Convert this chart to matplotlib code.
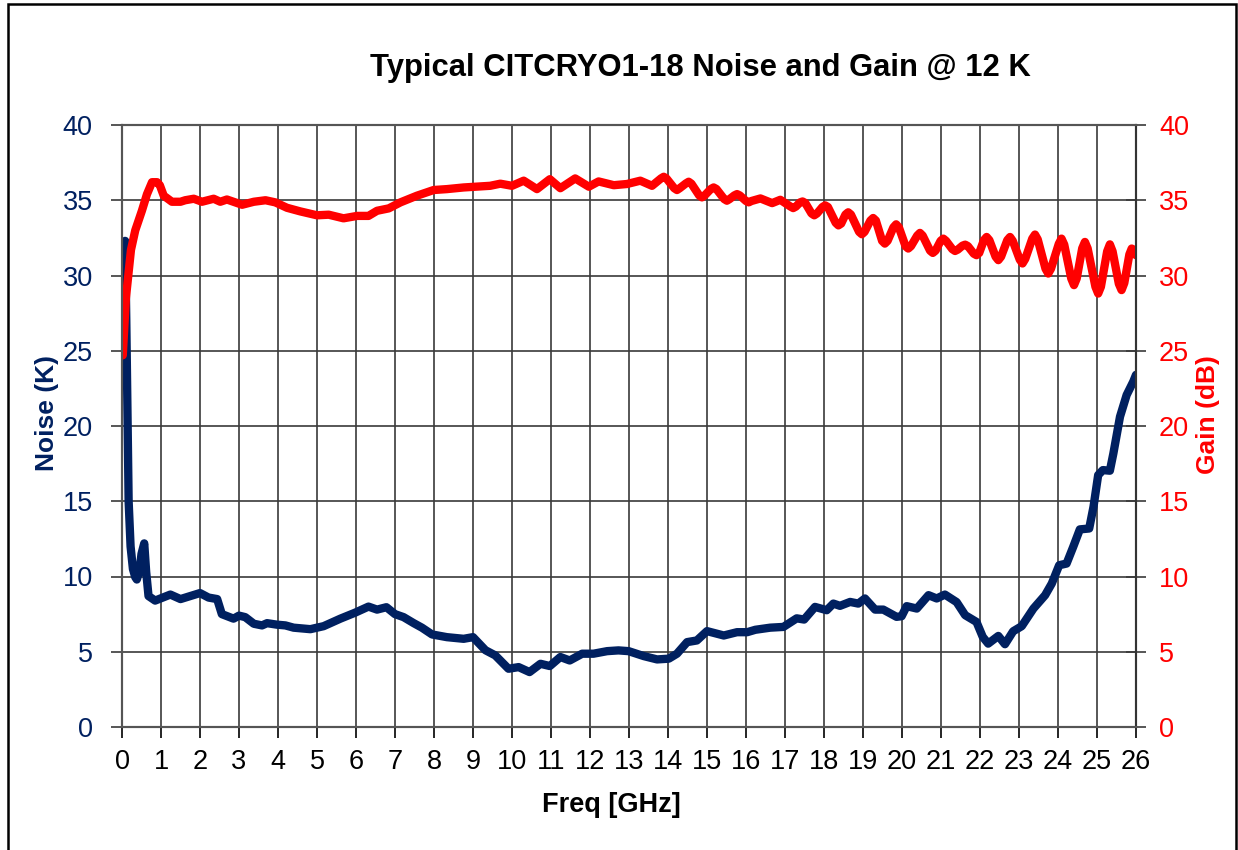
import matplotlib
matplotlib.use("Agg")
import matplotlib.pyplot as plt
from matplotlib.patches import Rectangle

# Noise curve (K) vs frequency (GHz)
freq_noise = [0.08, 0.11, 0.14, 0.17, 0.22, 0.28, 0.34, 0.38, 0.45, 0.5, 0.57, 0.62, 0.68, 0.85,
              1.24, 1.5, 1.75, 2.0, 2.22, 2.44, 2.56, 2.86, 3.0, 3.16, 3.38, 3.59, 3.72, 3.97,
              4.19, 4.4, 4.83, 5.17, 5.6, 5.98, 6.32, 6.54, 6.78, 7.0, 7.22, 7.48, 7.69, 7.95,
              8.33, 8.76, 9.0, 9.32, 9.57, 9.91, 10.17, 10.45, 10.73, 10.97, 11.24, 11.48, 11.8,
              12.09, 12.44, 12.73, 12.99, 13.38, 13.72, 14.02, 14.23, 14.49, 14.74, 15.0, 15.43,
              15.77, 16.03, 16.24, 16.62, 16.96, 17.3, 17.49, 17.77, 18.07, 18.24, 18.41, 18.67,
              18.88, 19.05, 19.31, 19.52, 19.86, 19.99, 20.12, 20.38, 20.68, 20.89, 21.1, 21.4,
              21.62, 21.91, 22.07, 22.21, 22.47, 22.64, 22.85, 23.07, 23.37, 23.67, 23.84, 24.03,
              24.22, 24.39, 24.56, 24.8, 24.91, 25.03, 25.15, 25.33, 25.42, 25.59, 25.76, 25.93, 26.0]
noise_k = [32.3, 27.0, 21.0, 15.0, 12.0, 10.5, 9.96, 9.8, 10.4, 11.5, 12.2, 10.3, 8.7, 8.4,
           8.8, 8.5, 8.7, 8.9, 8.6, 8.5, 7.5, 7.2, 7.4, 7.3, 6.86, 6.75, 6.9, 6.8,
           6.75, 6.6, 6.5, 6.7, 7.2, 7.6, 8.0, 7.8, 7.96, 7.5, 7.3, 6.9, 6.6, 6.15,
           5.97, 5.86, 5.97, 5.1, 4.76, 3.87, 3.98, 3.65, 4.2, 4.05, 4.65, 4.42, 4.87,
           4.87, 5.04, 5.09, 5.04, 4.71, 4.49, 4.54, 4.87, 5.64, 5.75, 6.37, 6.08,
           6.3, 6.3, 6.46, 6.6, 6.65, 7.22, 7.14, 7.98, 7.76, 8.2, 8.05, 8.31,
           8.2, 8.54, 7.8, 7.8, 7.32, 7.36, 8.03, 7.87, 8.76, 8.54, 8.8, 8.3,
           7.43, 6.98, 5.99, 5.54, 6.05, 5.5, 6.36, 6.7, 7.87, 8.76, 9.53, 10.75,
           10.86, 11.97, 13.13, 13.19, 14.63, 16.74, 17.07, 17.03, 18.18, 20.62, 22.06, 22.95, 23.4]

# Gain curve (dB) vs frequency (GHz)
freq_gain = [0.02, 0.1, 0.23, 0.34, 0.51, 0.64, 0.77, 0.9, 0.97, 1.07, 1.28, 1.5, 1.62, 1.84,
             2.05, 2.35, 2.52, 2.69, 3.08, 3.38, 3.68, 3.93, 4.23, 4.57, 5.0, 5.3, 5.68, 6.03,
             6.32, 6.54, 6.84, 7.14, 7.56, 7.99, 8.33, 8.76, 9.44, 9.7, 10.0, 10.3, 10.64, 10.97,
             11.24, 11.62, 11.97, 12.22, 12.61, 12.95, 13.29, 13.59,
             13.82, 13.89, 13.96, 14.16, 14.23, 14.3, 14.46, 14.53, 14.6, 14.8, 14.87, 14.94,
             15.1, 15.17, 15.24, 15.44, 15.51, 15.58, 15.7, 15.77, 15.84, 16.0, 16.07, 16.14,
             16.37, 16.67, 16.88, 17.14, 17.21, 17.28, 17.38, 17.45, 17.52, 17.68, 17.75, 17.82,
             17.96, 18.03, 18.1, 18.3, 18.37, 18.44, 18.55, 18.62, 18.69, 18.9, 18.97, 19.04,
             19.19, 19.26, 19.33, 19.49, 19.56, 19.63, 19.78, 19.85, 19.92, 20.09, 20.16, 20.23,
             20.39, 20.46, 20.53, 20.72, 20.79, 20.86, 20.99, 21.06, 21.13, 21.29, 21.36, 21.43,
             21.55, 21.62, 21.69, 21.84, 21.91, 21.98, 22.1, 22.17, 22.24, 22.4, 22.47, 22.54,
             22.7, 22.77, 22.84, 23.02, 23.09, 23.16, 23.34, 23.41, 23.48, 23.68, 23.75, 23.82,
             24.02, 24.09, 24.16, 24.34, 24.41, 24.48, 24.62, 24.69, 24.76, 24.96, 25.03, 25.1,
             25.26, 25.33, 25.4, 25.56, 25.63, 25.7, 25.83, 25.89, 25.95, 26.0]
gain_db = [24.7, 28.5, 31.7, 33.0, 34.3, 35.4, 36.2, 36.2, 36.0, 35.3, 34.9, 34.9, 35.0, 35.1,
           34.9, 35.1, 34.9, 35.05, 34.7, 34.9, 35.0, 34.86, 34.5, 34.26, 34.0, 34.04, 33.8, 33.96,
           33.96, 34.3, 34.46, 34.86, 35.3, 35.68, 35.74, 35.85, 35.96, 36.1, 35.96, 36.3, 35.74, 36.4,
           35.8, 36.45, 35.9, 36.25, 36.0, 36.08, 36.3, 35.96,
           36.45, 36.56, 36.45, 35.8, 35.68, 35.8, 36.12, 36.23, 36.1, 35.32, 35.19, 35.32,
           35.75, 35.85, 35.75, 35.08, 34.97, 35.08, 35.32, 35.41, 35.32, 34.95, 34.86, 34.95,
           35.12, 34.81, 35.03, 34.58, 34.48, 34.58, 34.85, 34.92, 34.82, 34.12, 34.0, 34.12,
           34.55, 34.66, 34.55, 33.5, 33.33, 33.45, 34.05, 34.2, 34.05, 32.9, 32.74, 32.9,
           33.65, 33.82, 33.65, 32.3, 32.12, 32.3, 33.2, 33.4, 33.2, 31.95, 31.79, 31.95,
           32.65, 32.83, 32.65, 31.65, 31.5, 31.65, 32.3, 32.45, 32.3, 31.75, 31.63, 31.72,
           31.98, 32.05, 31.95, 31.45, 31.35, 31.5, 32.35, 32.56, 32.35, 31.25, 31.02, 31.25,
           32.35, 32.56, 32.3, 31.05, 30.8, 31.1, 32.45, 32.72, 32.4, 30.45, 30.13, 30.45,
           32.1, 32.45, 32.05, 29.8, 29.36, 29.8, 31.8, 32.23, 31.8, 29.25, 28.8, 29.25,
           31.6, 32.07, 31.6, 29.45, 29.03, 29.5, 31.4, 31.79, 31.7, 31.35]

x_ticks = list(range(0, 27))
y_ticks = list(range(0, 45, 5))

NAVY = "#002060"
RED = "#FF0000"

plt.rcParams["font.family"] = ["Liberation Sans", "DejaVu Sans"]

fig = plt.figure(figsize=(12.38, 8.5), dpi=100)
ax = fig.add_axes([122 / 1238, 1 - 727 / 850, (1136 - 122) / 1238, (727 - 125) / 850])
ax2 = ax.twinx()

ax.plot(freq_noise, noise_k, color=NAVY, lw=6.0, solid_joinstyle="round", solid_capstyle="round")
ax2.plot(freq_gain, gain_db, color=RED, lw=6.0, solid_joinstyle="round", solid_capstyle="round")

for a in (ax, ax2):
    a.set_xlim(0, 26)
    a.set_ylim(0, 40)
    a.set_yticks(y_ticks)

ax.set_xticks(x_ticks)
ax.grid(True, color="#3a3a3a", lw=1.2)
ax.set_axisbelow(True)

ax.tick_params(axis="x", direction="out", length=8, width=1.2, pad=8, labelsize=19.5, colors="black")
ax.tick_params(axis="y", direction="out", length=8, width=1.2, pad=13, labelsize=19.5,
               colors="#3a3a3a", labelcolor=NAVY)
ax2.tick_params(axis="y", direction="inout", length=15, width=1.2, pad=9, labelsize=19.5,
                colors="#3a3a3a", labelcolor=RED)

for s in ax.spines.values():
    s.set_color("#555555")
    s.set_linewidth(1.5)
for s in ax2.spines.values():
    s.set_color("#555555")
    s.set_linewidth(1.5)
ax2.spines["right"].set_color("#333333")

fig.text(700 / 1238, 1 - 68 / 850, "Typical CITCRYO1-18 Noise and Gain @ 12 K",
         ha="center", va="center", fontsize=22.3, fontweight="bold")
fig.text(611 / 1238, 1 - 805 / 850, "Freq [GHz]", ha="center", va="center",
         fontsize=19.5, fontweight="bold")
fig.text(47 / 1238, 1 - 413 / 850, "Noise (K)", ha="center", va="center", rotation=90,
         fontsize=19, fontweight="bold", color=NAVY)
fig.text(1208 / 1238, 1 - 415 / 850, "Gain (dB)", ha="center", va="center", rotation=90,
         fontsize=19, fontweight="bold", color=RED)

# outer frame around the whole chart
fig.patches.append(Rectangle((8 / 1238, -0.1), (1236 - 8) / 1238, 1.1 - 4 / 850,
                             transform=fig.transFigure, fill=False, ec="black", lw=1.8))

fig.savefig("out.png", dpi=100)
